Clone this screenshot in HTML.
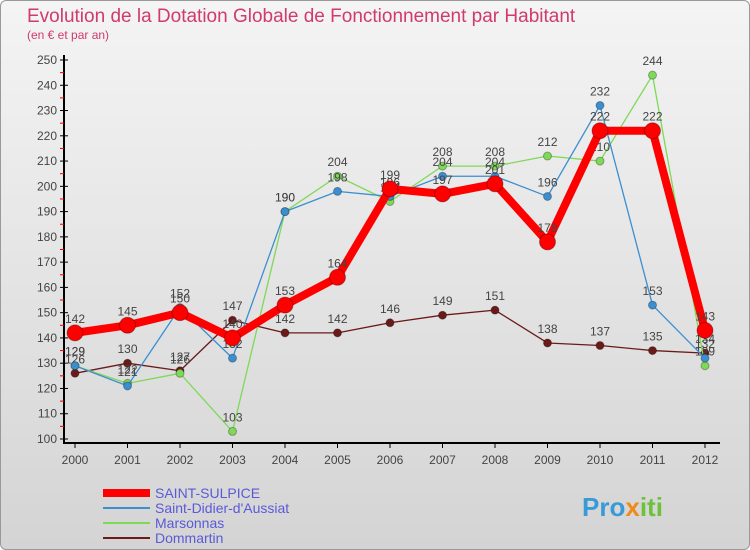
<!DOCTYPE html>
<html><head><meta charset="utf-8"><style>
body{margin:0;width:750px;height:550px;overflow:hidden;font-family:"Liberation Sans",sans-serif}
#wrap{position:absolute;left:0;top:0;width:748px;height:548px;border:1px solid #999;border-radius:6px;background:linear-gradient(#f4f4f4,#d4d4d4)}
</style></head><body>
<div id="wrap">
<svg id="chart" width="750" height="550" style="position:absolute;left:-1px;top:-1px">
<text x="27" y="22" font-size="19" fill="#d03a6c">Evolution de la Dotation Globale de Fonctionnement par Habitant</text>
<text x="27" y="39" font-size="12" fill="#d03a6c">(en € et par an)</text>
<g id="axes"></g><g id="series"></g><g id="legend"></g>
<text x="582" y="516" font-size="26" font-weight="bold" fill="#3a9ad8">Pro<tspan fill="#f08a1a">x</tspan><tspan fill="#6cc23a">iti</tspan></text>
</svg></div>
<script>
const years=["2000","2001","2002","2003","2004","2005","2006","2007","2008","2009","2010","2011","2012"];
const yTicks=[100,110,120,130,140,150,160,170,180,190,200,210,220,230,240,250];
const saintSulpice=[142,145,150,140,153,164,199,197,201,178,222,222,143];
const saintDidier=[129,121,152,132,190,198,196,204,204,196,232,153,132];
const marsonnas=[129,122,126,103,190,204,194,208,208,212,210,244,129];
const dommartin=[126,130,127,147,142,142,146,149,151,138,137,135,134];
const NS="http://www.w3.org/2000/svg";
const x=i=>75+i*52.5, y=v=>439-(v-100)*379/150;
function mk(t,a,p){const e=document.createElementNS(NS,t);for(const k in a)e.setAttribute(k,a[k]);p.appendChild(e);return e;}
const ax=document.getElementById('axes');
const yl=mk('line',{x1:64,y1:55,x2:64,y2:443,stroke:'#000','stroke-width':2},ax);


const xl=mk('line',{x1:63,y1:443,x2:720,y2:443,stroke:'#000','stroke-width':2},ax);


yTicks.forEach(v=>{
 mk('line',{x1:60,y1:y(v),x2:68,y2:y(v),stroke:'#000'},ax);
 if(v<250)mk('line',{x1:60,y1:y(v+5),x2:64,y2:y(v+5),stroke:'#e00'},ax);
 const t=mk('text',{x:57,y:y(v)+4,'font-size':12,fill:'#444','text-anchor':'end'},ax);t.textContent=v;
 
 
});
years.forEach((yr,i)=>{
 mk('line',{x1:x(i),y1:443,x2:x(i),y2:448,stroke:'#000'},ax);
 const t=mk('text',{x:x(i),y:464,'font-size':12,fill:'#444','text-anchor':'middle'},ax);t.textContent=yr;
 
 
});
const sg=document.getElementById('series');
function draw(d,col,w,r,name){
 const g=mk('g',{},sg);
 
 
 mk('polyline',{points:d.map((v,i)=>x(i)+','+y(v)).join(' '),fill:'none',stroke:col,'stroke-width':w,'stroke-linejoin':'round'},g);
 d.forEach((v,i)=>{
  const c=mk('circle',{cx:x(i),cy:y(v),r:r,fill:col,stroke:'rgba(0,0,0,0.3)','stroke-width':1},g);
  
  
  const t=mk('text',{x:x(i),y:y(v)-10,'font-size':12,fill:'#444','text-anchor':'middle'},g);t.textContent=v;
  
  
 });
}
draw(dommartin,'#6b1a1a',1.3,4,'dommartin-series');
draw(marsonnas,'#7ed957',1.3,4,'marsonnas-series');
draw(saintDidier,'#3b8fd0',1.3,4,'saint-didier-series');
draw(saintSulpice,'#ff0000',8,8,'saint-sulpice-series');
const lg=document.getElementById('legend');
[['SAINT-SULPICE','#ff0000',8],['Saint-Didier-d\'Aussiat','#3b8fd0',2],['Marsonnas','#7ed957',2],['Dommartin','#6b1a1a',2]].forEach((e,i)=>{
 const yy=493+i*15;
 const g=mk('g',{},lg);
 
 
 mk('line',{x1:103,y1:yy,x2:150,y2:yy,stroke:e[1],'stroke-width':e[2]},g);
 const t=mk('text',{x:155,y:yy+5,'font-size':14,fill:'#5a5ad8'},g);t.textContent=e[0];
});
</script>
</body></html>
